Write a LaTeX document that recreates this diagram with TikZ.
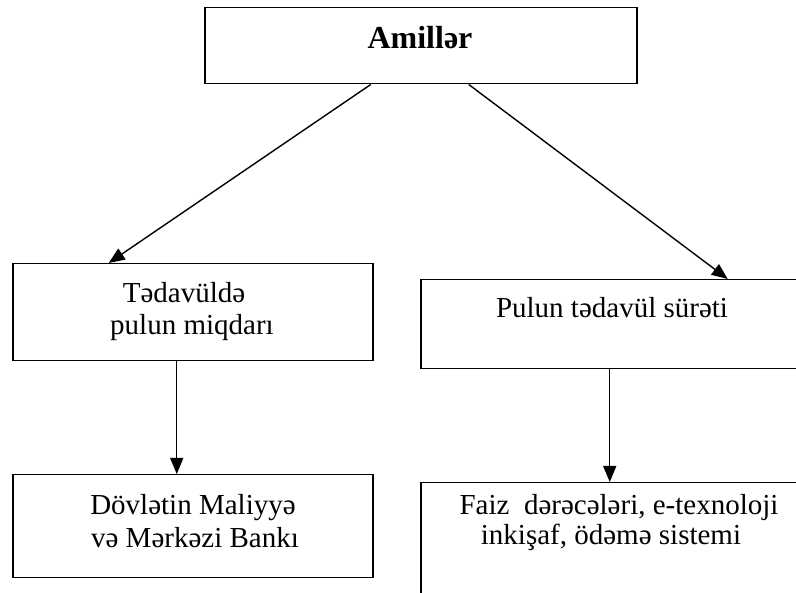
\documentclass[tikz,border=0pt]{standalone}
\usepackage{fontspec}
\setmainfont{Liberation Serif}
\usetikzlibrary{arrows.meta}
\begin{document}
\begin{tikzpicture}[x=1pt,y=-1pt,
  box/.style={draw=black, line width=1.5pt, rectangle, inner sep=0pt, anchor=north west},
  lbl/.style={anchor=base, inner sep=0pt, font=\fontsize{29}{33}\selectfont},
  arr/.style={line width=1.4pt, -{Triangle[length=16pt,width=13pt]}}]
\useasboundingbox (0,0) rectangle (796,593);
\clip (0,0) rectangle (796,593);
% boxes
\node[box, minimum width=432pt, minimum height=76pt] (top) at (204,7) {};
\node[box, minimum width=360pt, minimum height=97pt] (lm) at (12,263) {};
\node[box, minimum width=400pt, minimum height=89pt] (rm) at (420,279) {};
\node[box, minimum width=360pt, minimum height=103pt] (bl) at (12,474) {};
\node[box, minimum width=400pt, minimum height=140pt] (br) at (420,482) {};
% texts
\node[lbl, font=\bfseries\fontsize{32}{36}\selectfont] (t0) at (420,49) {Amillər};
\node[lbl] (t1a) at (184,303) {Tədavüldə};
\node[lbl] (t1b) at (192,335) {pulun miqdarı};
\node[lbl] (t2) at (612,318) {Pulun tədavül sürəti};
\node[lbl] (t3a) at (193,515) {Dövlətin Maliyyə};
\node[lbl] (t3b) at (195,548) {və Mərkəzi Bankı};
\node[lbl] (t4a) at (619,515) {Faiz\ \ dərəcələri, e-texnoloji};
\node[lbl] (t4b) at (611,545) {inkişaf, ödəmə sistemi};
% arrows
\draw[arr] ([xshift=-50pt]top.south) -- ([xshift=-84pt]lm.north);
\draw[arr] ([xshift=48pt]top.south) -- ([xshift=107pt]rm.north);
\draw[arr] ([xshift=-16pt]lm.south) -- ([xshift=-16pt]bl.north);
\draw[arr] ([xshift=-11pt]rm.south) -- ([xshift=-11pt]br.north);
\end{tikzpicture}
\end{document}
